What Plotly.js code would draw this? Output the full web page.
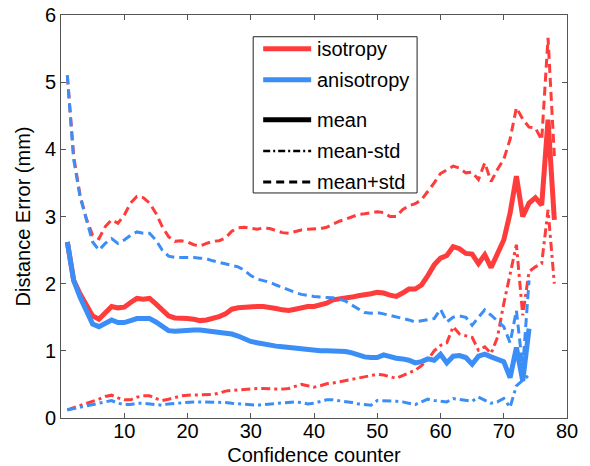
<!DOCTYPE html>
<html>
<head>
<meta charset="utf-8">
<script src="https://cdn.plot.ly/plotly-3.0.1.min.js"></script>
<style>html,body{margin:0;padding:0;background:#fff;}#chart{width:590px;height:466px;}</style>
</head>
<body>
<div id="chart"></div>
<script>
// Confidence counter values
const xIso = Array.from({length: 78}, (_, i) => i + 1);
const xAniso = Array.from({length: 74}, (_, i) => i + 1);

// Isotropy (red)
const isoMean = [2.62,2.05,1.85,1.68,1.52,1.47,1.57,1.66,1.64,1.65,
  1.72,1.78,1.77,1.78,1.70,1.60,1.52,1.49,1.49,1.48,
  1.47,1.45,1.46,1.48,1.51,1.55,1.62,1.64,1.65,1.65,
  1.66,1.66,1.65,1.63,1.61,1.60,1.62,1.64,1.66,1.66,
  1.68,1.71,1.76,1.77,1.78,1.80,1.82,1.83,1.85,1.87,
  1.86,1.83,1.81,1.86,1.92,1.92,1.98,2.12,2.28,2.38,
  2.42,2.55,2.52,2.45,2.44,2.30,2.43,2.24,2.45,2.65,
  3.05,3.60,3.00,3.20,3.28,3.17,4.44,2.95];
const isoMinus = [0.12,0.15,0.18,0.21,0.24,0.28,0.32,0.34,0.30,0.27,
  0.27,0.31,0.33,0.33,0.29,0.26,0.28,0.31,0.33,0.34,
  0.34,0.34,0.34,0.35,0.37,0.40,0.41,0.42,0.43,0.43,
  0.44,0.44,0.43,0.43,0.43,0.44,0.47,0.50,0.48,0.46,
  0.48,0.51,0.52,0.54,0.56,0.57,0.59,0.61,0.63,0.65,
  0.64,0.61,0.59,0.63,0.67,0.71,0.78,0.87,1.00,1.08,
  1.12,1.36,1.25,1.22,1.20,1.01,1.06,0.96,1.20,1.70,
  2.15,2.58,1.53,2.18,2.25,2.30,3.10,2.00];
const isoPlus = [5.10,3.90,3.32,2.97,2.72,2.67,2.85,2.95,2.90,3.02,
  3.20,3.30,3.28,3.20,3.05,2.85,2.70,2.63,2.64,2.62,
  2.58,2.56,2.60,2.63,2.64,2.68,2.78,2.83,2.84,2.82,
  2.81,2.83,2.82,2.79,2.76,2.75,2.78,2.80,2.81,2.81,
  2.82,2.84,2.89,2.93,2.96,2.99,3.03,3.04,3.05,3.07,
  3.06,3.00,3.00,3.10,3.16,3.19,3.25,3.37,3.50,3.64,
  3.70,3.75,3.72,3.65,3.66,3.55,3.80,3.52,3.70,3.85,
  4.15,4.62,4.45,4.33,4.32,4.14,5.66,3.90];

// Anisotropy (blue)
const anisoMean = [2.62,2.05,1.80,1.58,1.40,1.36,1.42,1.46,1.42,1.42,
  1.45,1.48,1.48,1.48,1.43,1.36,1.30,1.29,1.30,1.31,
  1.31,1.31,1.30,1.29,1.28,1.27,1.25,1.22,1.17,1.14,
  1.12,1.10,1.08,1.07,1.06,1.05,1.04,1.02,1.01,1.00,
  1.00,1.00,1.00,1.00,0.99,0.97,0.94,0.91,0.90,0.90,
  0.94,0.91,0.89,0.88,0.86,0.82,0.84,0.88,0.86,0.95,
  0.82,0.92,0.93,0.90,0.80,0.92,0.95,0.91,0.87,0.84,
  0.60,1.05,0.55,1.33];
const anisoMinus = [0.12,0.14,0.16,0.18,0.20,0.22,0.25,0.26,0.22,0.20,
  0.20,0.22,0.22,0.21,0.19,0.19,0.21,0.22,0.23,0.23,
  0.24,0.24,0.24,0.23,0.23,0.23,0.22,0.21,0.20,0.19,
  0.19,0.20,0.21,0.22,0.23,0.24,0.24,0.23,0.21,0.22,
  0.25,0.27,0.27,0.26,0.25,0.23,0.21,0.20,0.19,0.26,
  0.26,0.25,0.25,0.24,0.22,0.20,0.24,0.28,0.26,0.25,
  0.24,0.29,0.28,0.26,0.25,0.31,0.27,0.22,0.24,0.29,
  0.16,0.48,0.56,0.64];
const anisoPlus = [5.10,3.85,3.30,2.95,2.62,2.50,2.60,2.67,2.60,2.65,
  2.72,2.77,2.75,2.75,2.65,2.50,2.41,2.39,2.39,2.40,
  2.39,2.38,2.37,2.34,2.32,2.30,2.28,2.25,2.20,2.12,
  2.07,2.05,2.02,1.98,1.94,1.90,1.87,1.84,1.82,1.81,
  1.80,1.80,1.79,1.77,1.74,1.68,1.62,1.57,1.56,1.57,
  1.55,1.53,1.51,1.49,1.46,1.43,1.45,1.46,1.48,1.62,
  1.43,1.50,1.52,1.50,1.38,1.50,1.61,1.53,1.45,1.36,
  1.12,1.60,0.75,2.05];

const xTicks = [10,20,30,40,50,60,70,80];
const yTicks = [0,1,2,3,4,5,6];
const legendLabels = ['isotropy','anisotropy','mean','mean-std','mean+std'];

const RED = '#ff3c3c';
const BLUE = '#3b8ef6';
const DASH = '9px,5px';
const DASHDOT = '9px,4px,3px,4px';

function tr(x, y, color, width, dash) {
  return {x: x, y: y, type: 'scatter', mode: 'lines', showlegend: false,
    hoverinfo: 'skip', line: {color: color, width: width, dash: dash}};
}

const data = [
  tr(xIso, isoPlus, RED, 3, DASH),
  tr(xIso, isoMinus, RED, 3, DASHDOT),
  tr(xIso, isoMean, RED, 5, 'solid'),
  tr(xAniso, anisoPlus, BLUE, 3, DASH),
  tr(xAniso, anisoMinus, BLUE, 3, DASHDOT),
  tr(xAniso, anisoMean, BLUE, 5, 'solid')
];

// custom legend (paper coords)
const PX = px => (px - 60.7) / 506.3;
const PY = py => (417.7 - py) / 402.4;
const lx0 = PX(263), lx1 = PX(311), tx = PX(315);
const rowsY = [49, 80, 120, 151, 182];
const sampleStyle = [
  {color: RED, width: 5, dash: 'solid'},
  {color: BLUE, width: 5, dash: 'solid'},
  {color: '#000', width: 5, dash: 'solid'},
  {color: '#000', width: 2.5, dash: '7px,3px,2px,3px'},
  {color: '#000', width: 3, dash: '8px,5px'}
];
const shapes = [{type: 'rect', xref: 'paper', yref: 'paper',
  x0: PX(253), x1: PX(417), y0: PY(193), y1: PY(37),
  line: {color: '#222', width: 1}, fillcolor: '#fff', layer: 'above'}];
const annotations = [];
legendLabels.forEach((lab, i) => {
  const y = PY(rowsY[i]);
  shapes.push({type: 'line', xref: 'paper', yref: 'paper', x0: lx0, x1: lx1, y0: y, y1: y,
    line: sampleStyle[i], layer: 'above'});
  annotations.push({xref: 'paper', yref: 'paper', x: tx, y: y, xanchor: 'left', yanchor: 'middle',
    text: lab, showarrow: false, font: {size: 20, color: '#000'}});
});

const axisCommon = {
  showline: true, mirror: 'ticks', linecolor: '#555', linewidth: 1,
  ticks: 'inside', ticklen: 5, tickcolor: '#555', tickwidth: 1,
  showgrid: false, zeroline: false,
  tickfont: {size: 20, color: '#000'}
};

const layout = {
  width: 590, height: 466,
  margin: {l: 61, r: 23, t: 15, b: 48, pad: 0},
  paper_bgcolor: '#fff', plot_bgcolor: '#fff',
  font: {family: 'Liberation Sans, Arial, sans-serif', color: '#000'},
  xaxis: Object.assign({}, axisCommon, {range: [0, 80], tickvals: xTicks, ticktext: xTicks.map(String),
    ticklabelstandoff: -5,
    title: {text: 'Confidence counter', font: {size: 20}, standoff: 6}}),
  yaxis: Object.assign({}, axisCommon, {range: [0, 6], tickvals: yTicks, ticktext: yTicks.map(String),
    title: {text: 'Distance Error (mm)', font: {size: 20}, standoff: 8}}),
  shapes: shapes,
  annotations: annotations
};

Plotly.newPlot('chart', data, layout, {displayModeBar: false, staticPlot: true});
</script>
</body>
</html>
